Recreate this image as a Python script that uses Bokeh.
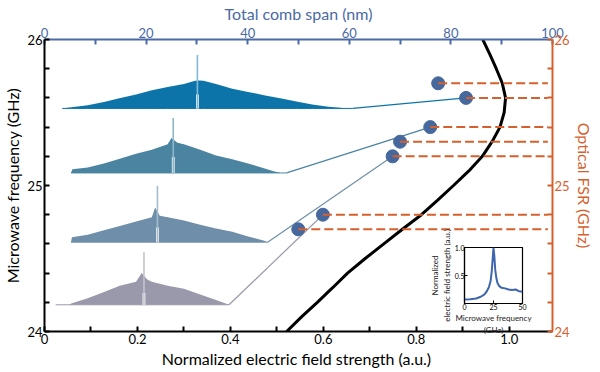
from bokeh.plotting import figure
from bokeh.models import Range1d, LinearAxis, FixedTicker
from bokeh.layouts import column
from bokeh.embed import file_html
from bokeh.resources import INLINE

FONT = "Lato"

# ---- main resonance curve (microwave frequency GHz vs normalized field) ----
curve_f = [24.0, 24.1, 24.2, 24.3, 24.4, 24.5, 24.6, 24.7, 24.8, 24.9, 25.0,
           25.1, 25.2, 25.3, 25.4, 25.5, 25.6, 25.7, 25.8, 25.9, 26.0]
curve_e = [0.521, 0.553, 0.587, 0.620, 0.652, 0.690, 0.730, 0.770, 0.811, 0.846, 0.880,
           0.913, 0.942, 0.963, 0.980, 0.989, 0.992, 0.985, 0.972, 0.958, 0.943]

# ---- optical FSR points ----
fsr_f = [25.7, 25.6, 25.4, 25.3, 25.2, 24.8, 24.7]
fsr_e = [0.847, 0.907, 0.830, 0.765, 0.749, 0.599, 0.546]

# ---- comb spectra (x in field units, h = height above baseline in GHz) ----
spec1_x = [0.038, 0.058, 0.093, 0.128, 0.161, 0.197, 0.231, 0.265, 0.300, 0.324, 0.334,
           0.342, 0.369, 0.404, 0.438, 0.472, 0.507, 0.542, 0.576, 0.611, 0.642, 0.663]
spec1_h = [0.000, 0.008, 0.022, 0.044, 0.070, 0.096, 0.124, 0.146, 0.168, 0.189, 0.192,
           0.189, 0.168, 0.135, 0.113, 0.091, 0.070, 0.048, 0.026, 0.011, 0.003, 0.000]
spec2_x = [0.057, 0.060, 0.093, 0.128, 0.162, 0.197, 0.231, 0.265, 0.273, 0.286,
           0.300, 0.335, 0.369, 0.404, 0.438, 0.472, 0.493, 0.508, 0.521]
spec2_h = [0.000, 0.025, 0.037, 0.065, 0.098, 0.131, 0.159, 0.196, 0.240, 0.207,
           0.196, 0.159, 0.120, 0.094, 0.065, 0.033, 0.011, 0.000, 0.000]
spec3_x = [0.057, 0.059, 0.093, 0.128, 0.162, 0.197, 0.231, 0.238, 0.248, 0.265,
           0.300, 0.335, 0.369, 0.404, 0.438, 0.473, 0.480]
spec3_h = [0.000, 0.033, 0.050, 0.082, 0.111, 0.141, 0.170, 0.237, 0.180, 0.170,
           0.148, 0.119, 0.093, 0.072, 0.039, 0.010, 0.000]
spec4_x = [0.024, 0.052, 0.059, 0.093, 0.128, 0.162, 0.197, 0.209, 0.221, 0.231,
           0.265, 0.300, 0.335, 0.369, 0.397]
spec4_h = [0.000, 0.000, 0.011, 0.044, 0.087, 0.131, 0.157, 0.217, 0.174, 0.157,
           0.131, 0.109, 0.070, 0.033, 0.000]

spec_base = [25.528, 25.086, 24.612, 24.183]
spec_center = [0.329, 0.277, 0.243, 0.214]
spec_spike = [0.366, 0.377, 0.387, 0.359]
spec_notch = [0.095, 0.110, 0.100, 0.080]
spec_target = [1, 2, 4, 5]          # index of FSR point each spectrum links to
spec_colors = ["#0d74aa", "#4a84a1", "#6f8ea9", "#9a98ab"]
spike_colors = ["#7db9d8", "#8fb6c9", "#a6bccd", "#c4c2cf"]

# ---- inset ----
inset_f = [0, 5, 10, 14, 17, 19, 21, 22.5, 23.5, 24.3, 25, 25.7, 26.5, 27.5, 28.5,
           30, 32, 35, 38, 41, 44, 47, 50]
inset_e = [0.07, 0.075, 0.09, 0.12, 0.16, 0.21, 0.29, 0.40, 0.58, 0.80, 1.0, 0.85, 0.60,
           0.45, 0.36, 0.31, 0.28, 0.27, 0.25, 0.24, 0.25, 0.22, 0.21]

X_END = 1.093
BLUE_AX = "#4a6aa5"
ORANGE = "#d6602d"

p = figure(frame_width=508, frame_height=292,
           x_range=Range1d(0, X_END), y_range=Range1d(24, 26),
           toolbar_location=None, output_backend="svg",
           x_axis_location=None, y_axis_location=None, min_border=0)
p.extra_x_ranges = {"comb": Range1d(0, 100)}
p.extra_y_ranges = {"fsr": Range1d(24, 26)}
p.xgrid.visible = False
p.ygrid.visible = False
p.outline_line_color = None
p.background_fill_color = "white"
p.border_fill_color = "white"


def style_axis(ax, color, label_size="16px"):
    ax.axis_line_color = color
    ax.axis_line_width = 2
    ax.major_tick_line_color = color
    ax.minor_tick_line_color = color
    ax.major_tick_line_width = 2
    ax.minor_tick_line_width = 2
    ax.major_tick_in = 5
    ax.major_tick_out = 0
    ax.minor_tick_in = 5
    ax.minor_tick_out = 0
    ax.major_label_text_color = color
    ax.major_label_text_font = FONT
    ax.major_label_text_font_size = "13px"
    ax.axis_label_text_color = color
    ax.axis_label_text_font = FONT
    ax.axis_label_text_font_size = label_size
    ax.axis_label_text_font_style = "normal"
    ax.major_label_standoff = 2
    ax.axis_label_standoff = 2


bottom = LinearAxis(axis_label="Normalized electric field strength  (a.u.)",
                    ticker=FixedTicker(ticks=[0, 0.2, 0.4, 0.6, 0.8, 1.0],
                                       minor_ticks=[0.1, 0.3, 0.5, 0.7, 0.9]))
bottom.major_label_overrides = {0: "0", 0.2: "0.2", 0.4: "0.4", 0.6: "0.6", 0.8: "0.8", 1.0: "1.0"}
style_axis(bottom, "black")
p.add_layout(bottom, "below")

left = LinearAxis(axis_label="Microwave frequency (GHz)",
                  ticker=FixedTicker(ticks=[24, 25, 26],
                                     minor_ticks=[24.2, 24.4, 24.6, 24.8, 25.2, 25.4, 25.6, 25.8]))
style_axis(left, "black")
p.add_layout(left, "left")

top = LinearAxis(x_range_name="comb", axis_label="Total comb span (nm)",
                 ticker=FixedTicker(ticks=[0, 20, 40, 60, 80, 100],
                                    minor_ticks=[10, 30, 50, 70, 90]))
style_axis(top, BLUE_AX)
p.add_layout(top, "above")

right = LinearAxis(y_range_name="fsr", axis_label="Optical FSR (GHz)",
                   ticker=FixedTicker(ticks=[24, 25, 26],
                                      minor_ticks=[24.2, 24.4, 24.6, 24.8, 25.2, 25.4, 25.6, 25.8]))
style_axis(right, ORANGE)
p.add_layout(right, "right")

# spectra
specs = [(spec1_x, spec1_h), (spec2_x, spec2_h), (spec3_x, spec3_h), (spec4_x, spec4_h)]
for i, (sx, sh) in enumerate(specs):
    base = spec_base[i]
    col = spec_colors[i]
    tops = [base + h for h in sh]
    p.varea(x=sx, y1=[base] * len(sx), y2=tops, fill_color=col)
    p.line(sx, [base] * len(sx), line_color=col, line_width=1)
    c = spec_center[i]
    p.quad(left=[c - 0.003], right=[c + 0.003], bottom=[base],
           top=[base + spec_notch[i]], fill_color="white", line_color=None)
    p.segment(x0=[c], y0=[base], x1=[c], y1=[base + spec_spike[i]],
              line_color=spike_colors[i], line_width=1.6)
    t = spec_target[i]
    p.line([sx[-1], fsr_e[t]], [base, fsr_f[t]], line_color=col, line_width=1.2)

# resonance curve
p.line(curve_e, curve_f, line_color="black", line_width=3)

# FSR dots and dashed lines
p.scatter(fsr_e, fsr_f, size=13, fill_color="#46689d", line_color="#46689d")
p.segment(x0=fsr_e, y0=fsr_f, x1=[X_END - 0.01] * len(fsr_e), y1=fsr_f,
          line_color=ORANGE, line_width=2, line_dash="9 4")

# inset
ins = figure(frame_width=58, frame_height=56,
             x_range=Range1d(0, 50), y_range=Range1d(0, 1.0),
             toolbar_location=None, output_backend="svg",
             min_border_left=40, min_border_top=30, min_border_right=30,
             min_border_bottom=34)
ins.background_fill_alpha = 0
ins.border_fill_alpha = 0
ins.xgrid.visible = False
ins.ygrid.visible = False
ins.outline_line_color = "black"
ins.outline_line_width = 1.2
ins.line(inset_f, inset_e, line_color="#3f66ad", line_width=2)
ins.xaxis.ticker = FixedTicker(ticks=[0, 25, 50])
ins.yaxis.ticker = FixedTicker(ticks=[0.5, 1.0])
ins.yaxis.major_label_overrides = {0.5: "0.5", 1.0: "1.0"}
ins.xaxis.axis_label = "Microwave frequency\n(GHz)"
ins.yaxis.axis_label = "Normalized\nelectric field strength (a.u.)"
for ax in (ins.xaxis[0], ins.yaxis[0]):
    ax.axis_line_width = 1.2
    ax.major_tick_in = 3
    ax.major_tick_out = 0
    ax.minor_tick_line_color = None
    ax.major_label_text_font = FONT
    ax.major_label_text_font_size = "7px"
    ax.major_label_text_color = "black"
    ax.axis_label_text_font = FONT
    ax.axis_label_text_font_size = "8px"
    ax.axis_label_text_color = "#222222"
    ax.axis_label_text_font_style = "normal"
    ax.major_label_standoff = 0
    ax.axis_label_standoff = 0

ins.styles = {"position": "absolute", "left": "420px", "top": "217px"}

layout = column(p, ins)
layout.styles = {"position": "relative"}

open("out.html", "w").write(file_html(layout, INLINE))
